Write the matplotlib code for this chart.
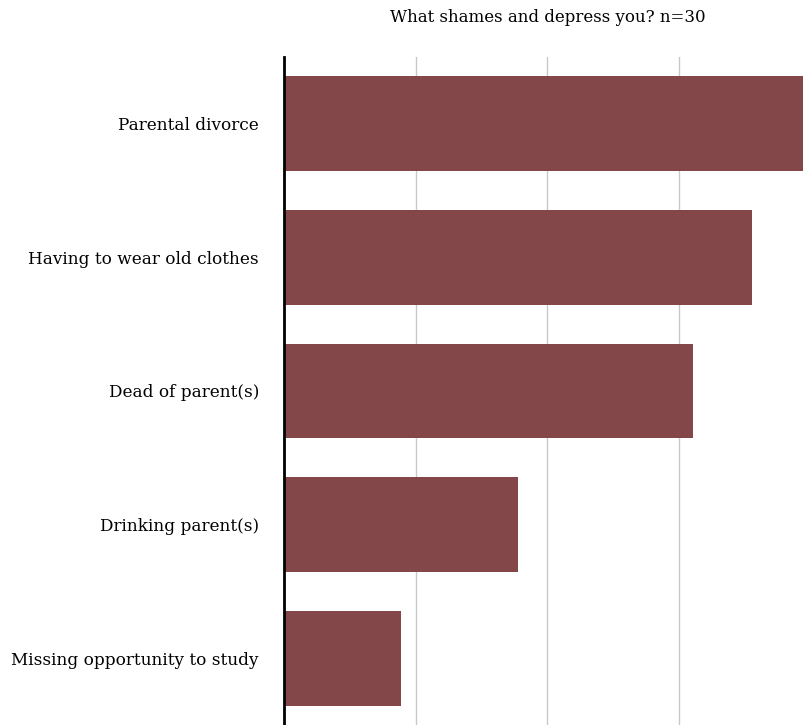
import matplotlib

matplotlib.use("Agg")
import matplotlib.pyplot as plt

# datos (conteos, n=30)
categories = [
    "Parental divorce",
    "Having to wear old clothes",
    "Dead of parent(s)",
    "Drinking parent(s)",
    "Missing opportunity to study",
]
counts = [9, 8, 7, 4, 2]
grid_ticks = [2.25, 4.5, 6.75]

BAR_COLOR = "#83474a"

plt.rcParams["font.family"] = ["DejaVu Serif"]

fig = plt.figure(figsize=(8.04, 7.25), dpi=100)
ax = fig.add_axes([284 / 804, 0.0, 520 / 804, 1 - 57 / 725])

pos = list(range(len(categories)))
ax.barh(pos, counts, height=0.71, color=BAR_COLOR, zorder=2)
ax.set_yticks(pos)
ax.set_yticklabels(categories, fontsize=12.2)
ax.set_ylim(len(categories) - 0.5, -0.5)
ax.set_xlim(0, 8.89)

ax.set_xticks(grid_ticks)
ax.set_xticklabels([])
ax.xaxis.grid(True, color="#c8c8c8", linewidth=1.0, zorder=0)
ax.tick_params(axis="both", length=0)
ax.tick_params(axis="y", pad=18)

for side in ("top", "right", "bottom"):
    ax.spines[side].set_visible(False)
ax.spines["left"].set_linewidth(2)
ax.spines["left"].set_color("black")
ax.spines["left"].set_zorder(3)

fig.text(
    548 / 804, 1 - 17 / 725,
    "What shames and depress you? n=30",
    ha="center", va="center", fontsize=12,
)

fig.savefig("out.png", dpi=100)
